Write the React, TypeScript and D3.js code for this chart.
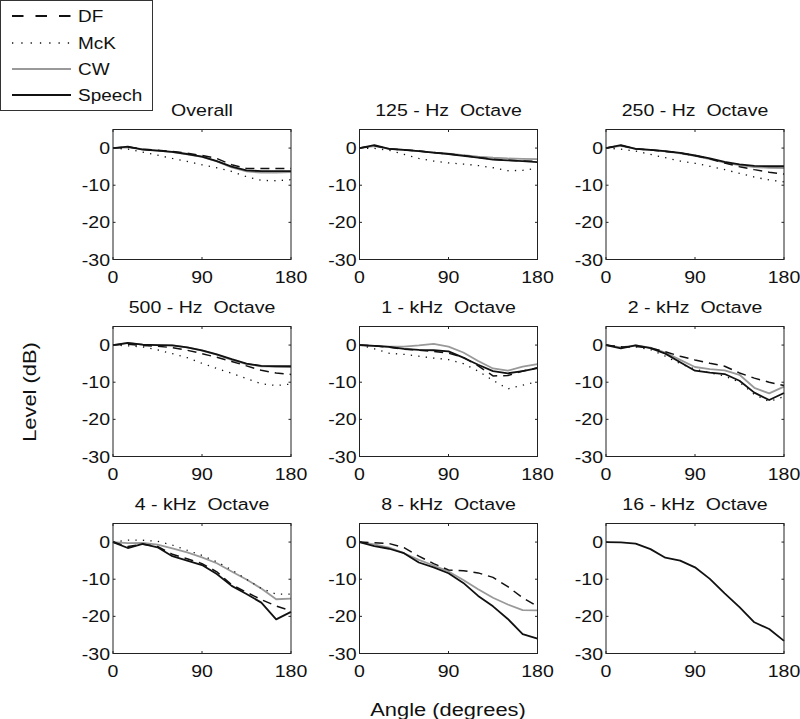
import React from 'react';
import * as d3 from 'd3';

const angles = [0, 15, 30, 45, 60, 75, 90, 105, 120, 135, 150, 165, 180];
const panelTitles = [
  'Overall', '125 - Hz  Octave', '250 - Hz  Octave',
  '500 - Hz  Octave', '1 - kHz  Octave', '2 - kHz  Octave',
  '4 - kHz  Octave', '8 - kHz  Octave', '16 - kHz  Octave',
];
const xTicks = [0, 90, 180];
const yTicks = [0, -10, -20, -30];
const seriesNames = ['DF', 'McK', 'CW', 'Speech'];

const dfValues: (number[] | null)[] = [
  [0, 0.3, -0.3, -0.6, -0.9, -1.4, -2.0, -2.8, -4.5, -5.5, -5.5, -5.5, -5.5],
  [0, 0.6, -0.2, -0.5, -0.8, -1.2, -1.6, -2.0, -2.5, -3.0, -3.3, -3.5, -3.6],
  [0, 0.7, -0.2, -0.5, -0.9, -1.3, -2.0, -2.9, -4.0, -5.0, -5.8, -6.5, -7.0],
  [0, 0.2, -0.1, -0.3, -0.7, -1.4, -2.3, -3.3, -4.4, -5.6, -6.8, -7.5, -7.9],
  [0, -0.2, -0.6, -1.1, -1.4, -1.7, -2.2, -3.3, -5.6, -8.3, -8.2, -7.0, -6.1],
  [0, -0.5, -0.4, -0.8, -1.8, -3.0, -4.0, -4.9, -5.7, -7.5, -8.9, -10.0, -10.9],
  [0, -1.2, -0.6, -1.2, -3.3, -4.5, -5.8, -8.0, -11.5, -13.5, -15.5, -17.2, -18.5],
  [0, -0.2, -0.4, -1.5, -3.8, -5.8, -7.5, -7.7, -8.3, -9.5, -12.0, -15.0, -17.3],
  null,
];
const mckValues: (number[] | null)[] = [
  [0, -0.3, -1.1, -1.9, -2.8, -3.6, -4.5, -5.3, -6.3, -7.7, -8.7, -8.8, -8.5],
  [0, -0.1, -0.6, -1.7, -2.8, -3.5, -4.0, -4.3, -4.7, -5.3, -6.1, -6.0, -5.4],
  [0, -0.3, -0.8, -1.7, -2.6, -3.5, -4.1, -4.9, -5.8, -6.8, -7.8, -8.6, -9.1],
  [0, -0.2, -0.5, -1.3, -2.3, -3.4, -4.9, -6.3, -7.6, -9.0, -10.4, -10.9, -10.5],
  [0, -1.0, -2.2, -2.5, -3.0, -3.5, -3.9, -5.0, -7.0, -9.5, -11.8, -10.8, -9.8],
  [0, -0.5, -0.5, -1.2, -3.0, -5.0, -6.5, -7.5, -8.3, -10.0, -13.3, -15.2, -13.9],
  [0, 0.5, 0.5, 0.2, -0.8, -2.2, -3.6, -5.3, -7.5, -10.0, -12.5, -14.0, -14.0],
  null,
  null,
];
const cwValues: (number[] | null)[] = [
  [0, 0.2, -0.3, -0.7, -1.1, -1.7, -2.4, -3.6, -5.2, -6.3, -6.6, -6.6, -6.5],
  [0, 0.5, -0.2, -0.5, -0.8, -1.2, -1.5, -1.9, -2.3, -2.6, -2.8, -2.9, -3.0],
  [0, 0.6, -0.2, -0.5, -0.9, -1.4, -2.1, -3.0, -3.9, -4.6, -5.1, -5.3, -5.4],
  [0, 0.5, 0.1, 0.0, -0.1, -0.6, -1.5, -2.6, -4.0, -5.1, -5.7, -5.8, -5.9],
  [0, -0.2, -0.4, -0.4, -0.1, 0.3, -0.4, -2.0, -4.3, -6.3, -6.9, -5.8, -5.1],
  [0, -0.6, -0.1, -0.7, -2.0, -4.0, -5.9, -6.5, -6.8, -8.0, -11.5, -13.0, -11.2],
  [0, -0.3, -0.2, -0.7, -1.7, -2.8, -4.1, -5.7, -7.9, -10.1, -12.5, -15.4, -15.2],
  [0, -0.6, -1.5, -3.0, -4.8, -6.3, -7.9, -10.2, -12.7, -15.0, -16.8, -18.3, -18.4],
  null,
];
const speechValues: (number[] | null)[] = [
  [0, 0.4, -0.4, -0.7, -1.0, -1.6, -2.3, -3.5, -5.0, -6.0, -6.2, -6.2, -6.2],
  [0, 0.8, -0.2, -0.5, -0.8, -1.2, -1.6, -2.1, -2.6, -3.1, -3.3, -3.5, -3.8],
  [0, 0.8, -0.2, -0.5, -0.8, -1.3, -2.0, -2.8, -3.7, -4.4, -4.8, -4.9, -4.9],
  [0, 0.6, 0.1, 0.0, -0.1, -0.6, -1.4, -2.5, -3.8, -5.0, -5.6, -5.7, -5.7],
  [0, -0.2, -0.5, -1.0, -1.3, -1.4, -1.7, -3.4, -5.3, -7.0, -7.6, -7.0, -6.2],
  [0, -0.9, -0.1, -0.8, -2.3, -4.6, -6.9, -7.4, -7.8, -9.6, -12.8, -14.8, -12.9],
  [0, -1.6, -0.5, -1.4, -3.8, -5.0, -6.2, -8.6, -11.8, -14.0, -16.3, -20.8, -18.8],
  [0, -1.1, -1.8, -3.0, -5.5, -6.8, -8.4, -11.0, -14.5, -17.3, -20.7, -24.8, -26.0],
  [0, -0.1, -0.4, -1.9, -4.2, -5.0, -6.8, -9.9, -13.8, -17.5, -21.6, -23.4, -26.6],
];

const FONT = '"Liberation Sans", Arial, Helvetica, sans-serif';
const SX = 1.15;

const colLeft = [113, 359.5, 606];
const rowTop = [129.5, 326.5, 523.5];
const PW = 178;
const PH = 130;

const styles = [
  { stroke: '#111', width: 1.5, dash: '9,6' },      // DF
  { stroke: '#111', width: 1.3, dash: '1.3,6.2' },  // McK
  { stroke: '#999', width: 1.8, dash: undefined },  // CW
  { stroke: '#111', width: 1.8, dash: undefined },  // Speech
];
const seriesData = [dfValues, mckValues, cwValues, speechValues];
const drawOrder = [2, 1, 0, 3];

function T(props: { x: number; y: number; anchor?: string; rotate?: number; children: React.ReactNode; size: number }) {
  const { x, y, anchor = 'start', rotate = 0, children, size } = props;
  return (
    <text
      transform={`translate(${x},${y}) rotate(${rotate}) scale(${SX},1)`}
      textAnchor={anchor}
      fontFamily={FONT}
      fontSize={size}
      fill="#111"
      style={{ whiteSpace: 'pre' }}
    >
      {children}
    </text>
  );
}

function Panel({ idx }: { idx: number }) {
  const r = Math.floor(idx / 3);
  const c = idx % 3;
  const left = colLeft[c];
  const top = rowTop[r];
  const x = d3.scaleLinear().domain([0, 180]).range([left, left + PW]);
  const y = d3.scaleLinear().domain([5, -30]).range([top, top + PH]);
  const line = d3.line<number>().x((_, i) => x(angles[i])).y((v) => y(v));
  return (
    <g>
      <T x={left + PW / 2} y={top - 14} anchor="middle" size={17}>{panelTitles[idx]}</T>
      {drawOrder.map((si) => {
        const vals = seriesData[si][idx];
        if (!vals) return null;
        const s = styles[si];
        return (
          <path
            key={si}
            d={line(vals) || ''}
            fill="none"
            stroke={s.stroke}
            strokeWidth={s.width}
            strokeDasharray={s.dash}
            strokeLinejoin="round"
          />
        );
      })}
      <rect x={left} y={top} width={PW} height={PH} fill="none" stroke="#222" strokeWidth={1} />
      {xTicks.map((t) => (
        <g key={'x' + t}>
          <line x1={x(t)} x2={x(t)} y1={top + PH} y2={top + PH - 2.5} stroke="#222" />
          <line x1={x(t)} x2={x(t)} y1={top} y2={top + 2.5} stroke="#222" />
          <T x={x(t)} y={top + PH + 23} anchor="middle" size={17}>{String(t)}</T>
        </g>
      ))}
      {yTicks.map((t) => (
        <g key={'y' + t}>
          <line x1={left} x2={left + 2.5} y1={y(t)} y2={y(t)} stroke="#222" />
          <line x1={left + PW} x2={left + PW - 2.5} y1={y(t)} y2={y(t)} stroke="#222" />
          <T x={left - 3} y={y(t) + 6} anchor="end" size={17}>{String(t)}</T>
        </g>
      ))}
    </g>
  );
}

export default function App() {
  const legendY = [16, 43, 69, 95];
  return (
    <div style={{ position: 'absolute', left: 0, top: 0, background: '#fff' }}>
      <svg width={800} height={719} viewBox="0 0 800 719">
        <rect x={0} y={0} width={800} height={719} fill="#fff" />
        {panelTitles.map((_, i) => (
          <Panel key={i} idx={i} />
        ))}
        <T x={36} y={392} anchor="middle" rotate={-90} size={19}>Level (dB)</T>
        <T x={448} y={716} anchor="middle" size={19}>Angle (degrees)</T>
        <rect x={0.5} y={0.5} width={152} height={110} fill="#fff" stroke="#333" strokeWidth={1} />
        {seriesNames.map((n, i) => {
          const s = styles[i];
          const dash = i === 0 ? '11.5,12' : i === 1 ? '1.3,8' : undefined;
          return (
            <g key={n}>
              <line x1={12} x2={71} y1={legendY[i]} y2={legendY[i]} stroke={s.stroke} strokeWidth={s.width + 0.3} strokeDasharray={dash} />
              <T x={78} y={legendY[i] + 6} size={16.5}>{n}</T>
            </g>
          );
        })}
      </svg>
    </div>
  );
}
